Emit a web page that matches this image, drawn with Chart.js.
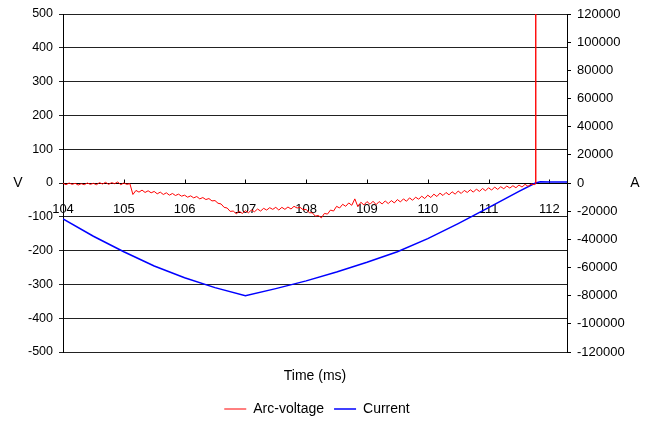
<!DOCTYPE html>
<html>
<head>
<meta charset="utf-8">
<script src="https://cdn.jsdelivr.net/npm/chart.js@4.4.1/dist/chart.umd.min.js"></script>
<style>
  body { margin: 0; background: #fff; }
</style>
</head>
<body>
<canvas id="arc-chart" width="648" height="421"></canvas>
<script>
// Arc-voltage (V) sampled every 0.05 ms from 104.00 ms
const voltStart = 104;
const voltStep = 0.05;
const arcVoltage = [
    -1, -5, 0, -4, -1, -6, -2, -5, 0, -4,            // 104.00 - 104.45
    -1, -5, 1, -3, 2, -4, 1, -2, 3, -5,              // 104.50 - 104.95
    0, -4, -2, -34, -22, -27, -21, -28, -23, -29,    // 105.00 - 105.45
    -25, -32, -27, -34, -29, -36, -31, -37, -33, -39, // 105.50 - 105.95
    -36, -42, -38, -44, -40, -47, -43, -49, -46, -53, // 106.00 - 106.45
    -52, -60, -62, -72, -74, -84, -83, -91, -84, -90, // 106.50 - 106.95
    -82, -88, -80, -85, -77, -83, -75, -80, -73, -78, // 107.00 - 107.45
    -72, -80, -72, -78, -71, -77, -69, -74, -72, -79, // 107.50 - 107.95
    -78, -88, -88, -98, -96, -103, -90, -92, -80, -83, // 108.00 - 108.45
    -69, -74, -63, -69, -59, -66, -47, -70, -57, -65, // 108.50 - 108.95
    -55, -63, -54, -64, -55, -62, -53, -61, -52, -59, // 109.00 - 109.45
    -49, -56, -47, -54, -44, -51, -42, -48, -39, -46, // 109.50 - 109.95
    -36, -43, -33, -40, -30, -37, -28, -35, -26, -33, // 110.00 - 110.45
    -24, -31, -22, -28, -20, -27, -18, -25, -16, -23, // 110.50 - 110.95
    -14, -21, -12, -19, -11, -17, -9, -15, -8, -14,  // 111.00 - 111.45
    -6, -12, -4, -10, -3, -5                          // 111.50 - 111.75
];
// switching spike at the end (goes off scale)
const spikeTime = [111.776, 111.776, 111.776];
const spikeVolt = [-3, 3000, 0];

// Current (A)
const currentTime = [104, 104.5, 105, 105.5, 106, 106.5, 107, 107.5, 108, 108.5,
    109, 109.5, 110, 110.5, 111, 111.5, 111.77, 111.85, 112, 112.29];
const current = [-25500, -37800, -48800, -58900, -67300, -74300, -80000, -75000, -69500, -63200,
    -56300, -48800, -39500, -28800, -17500, -6000, 0, 800, 700, 700];

const timeTicks = [104, 105, 106, 107, 108, 109, 110, 111, 112];
const voltTicks = [-500, 500, 100];       // min, max, step
const ampTicks = [-120000, 120000, 20000]; // min, max, step

const fontFamily = "'Liberation Sans', Arial, sans-serif";
Chart.defaults.font.family = fontFamily;
Chart.defaults.font.size = 12;
Chart.defaults.color = '#000';

const voltPoints = arcVoltage.map((v, i) => ({ x: voltStart + i * voltStep, y: v }));
spikeTime.forEach((t, i) => voltPoints.push({ x: t, y: spikeVolt[i] }));
const currentPoints = currentTime.map((t, i) => ({ x: t, y: current[i] }));

// small extras: upward tick marks on the time axis, the V / A unit labels, legend nudge
const extrasPlugin = {
    id: 'extras',
    afterLayout(chart) {
        const lg = chart.legend;
        lg.top += 5;
        lg.bottom += 5;
        lg.left -= 7;
        lg.right -= 7;
    },
    beforeDatasetsDraw(chart) {
        const ctx = chart.ctx;
        const xs = chart.scales.x;
        const y0 = Math.round(chart.scales.y.getPixelForValue(0)) + 0.5;
        ctx.save();
        ctx.strokeStyle = '#000';
        ctx.lineWidth = 1;
        ctx.beginPath();
        timeTicks.forEach(t => {
            const px = Math.round(xs.getPixelForValue(t)) + 0.5;
            ctx.moveTo(px, y0);
            ctx.lineTo(px, y0 - 4);
        });
        ctx.stroke();
        ctx.restore();
    },
    afterDraw(chart) {
        const ctx = chart.ctx;
        const y0 = chart.scales.y.getPixelForValue(0);
        ctx.save();
        ctx.fillStyle = '#000';
        ctx.font = '14px ' + fontFamily;
        ctx.textAlign = 'center';
        ctx.textBaseline = 'middle';
        ctx.fillText('V', 18, y0);
        ctx.fillText('A', 635, y0);
        ctx.restore();
    }
};

const chart = new Chart(document.getElementById('arc-chart'), {
    type: 'line',
    data: {
        datasets: [
            {
                label: 'Arc-voltage',
                data: voltPoints,
                yAxisID: 'y',
                borderColor: '#ff0000',
                backgroundColor: '#ff0000',
                borderWidth: 1,
                pointRadius: 0,
                tension: 0
            },
            {
                label: 'Current',
                data: currentPoints,
                yAxisID: 'yA',
                borderColor: '#0000ff',
                backgroundColor: '#0000ff',
                borderWidth: 1.5,
                pointRadius: 0,
                tension: 0
            }
        ]
    },
    options: {
        responsive: false,
        animation: false,
        devicePixelRatio: 1,
        layout: { padding: { top: 14, left: 0, right: 0, bottom: 0 } },
        plugins: {
            tooltip: { enabled: false },
            legend: {
                display: true,
                position: 'bottom',
                labels: {
                    usePointStyle: true,
                    pointStyle: 'line',
                    pointStyleWidth: 22,
                    padding: 10,
                    color: '#000',
                    font: { size: 14 }
                }
            }
        },
        scales: {
            x: {
                type: 'linear',
                position: { y: 0 },
                min: 104,
                max: 112.29,
                grid: { display: false },
                border: { display: true, color: '#000', width: 1 },
                ticks: {
                    stepSize: 1,
                    includeBounds: false,
                    padding: 11,
                    maxRotation: 0,
                    autoSkip: false,
                    color: '#000',
                    font: { size: 13 }
                }
            },
            xt: {
                type: 'linear',
                position: 'bottom',
                min: 104,
                max: 112.29,
                grid: { display: false },
                border: { display: false },
                ticks: { display: false },
                title: {
                    display: true,
                    text: 'Time (ms)',
                    color: '#000',
                    font: { size: 14 },
                    padding: { top: 14, bottom: 2 }
                },
                afterFit: s => { s.height = 35; }
            },
            y: {
                type: 'linear',
                position: 'left',
                min: voltTicks[0],
                max: voltTicks[1],
                grid: { color: '#222', lineWidth: 1, tickLength: 4 },
                border: { display: true, color: '#000', width: 1 },
                ticks: { stepSize: voltTicks[2], padding: 6, color: '#000', font: { size: 12.5 } },
                afterFit: s => { s.width = 63; }
            },
            yA: {
                type: 'linear',
                position: 'right',
                min: ampTicks[0],
                max: ampTicks[1],
                grid: { drawOnChartArea: false, color: '#000', tickLength: 4 },
                border: { display: true, color: '#000', width: 1 },
                ticks: {
                    stepSize: ampTicks[2],
                    padding: 6,
                    color: '#000',
                    font: { size: 13 },
                    callback: v => String(v)
                },
                afterFit: s => { s.width = 81; }
            }
        }
    },
    plugins: [extrasPlugin]
});
</script>
</body>
</html>
